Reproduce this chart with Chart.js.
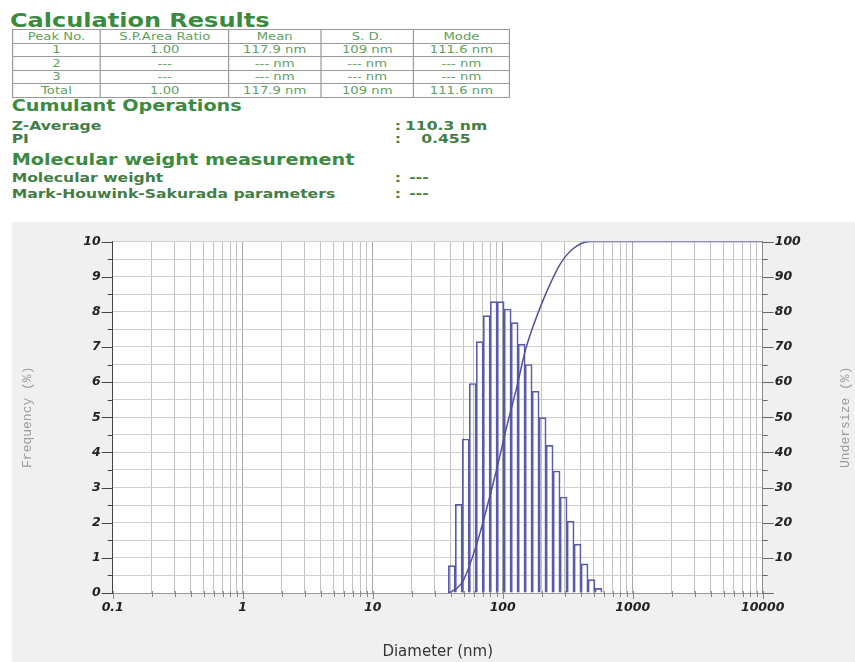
<!DOCTYPE html>
<html>
<head>
<meta charset="utf-8">
<script src="https://cdn.jsdelivr.net/npm/chart.js@4.4.0/dist/chart.umd.min.js"></script>
<style>
html,body{margin:0;padding:0;background:#fff;width:855px;height:662px;overflow:hidden;}
#top{position:absolute;left:0;top:0;width:712px;height:215px;transform:scaleX(1.2);transform-origin:0 0;font-family:"DejaVu Sans",sans-serif;}
.h{position:absolute;font-weight:bold;color:#3b8a40;line-height:1;white-space:nowrap;}
.lb{position:absolute;font-weight:bold;color:#437d45;line-height:1;white-space:nowrap;font-size:13px;}
#tbl{position:absolute;left:9.75px;top:29.3px;border-collapse:collapse;table-layout:fixed;font-size:11px;color:#5f9f5f;}
#tbl td{border:1px solid #9a9a9a;text-align:center;padding:0;height:12.5px;line-height:12px;white-space:nowrap;overflow:hidden;}
#chartwrap{position:absolute;left:0;top:222px;width:855px;height:440px;}
</style>
</head>
<body>
<div id="top">
  <div class="h" style="left:8.3px;top:9.8px;font-size:20px;">Calculation Results</div>
  <table id="tbl">
    <colgroup><col style="width:73.6px"><col style="width:106.9px"><col style="width:76.4px"><col style="width:77.8px"><col style="width:79.2px"></colgroup>
    <tr><td>Peak No.</td><td>S.P.Area Ratio</td><td>Mean</td><td>S. D.</td><td>Mode</td></tr>
    <tr><td>1</td><td>1.00</td><td>117.9 nm</td><td>109 nm</td><td>111.6 nm</td></tr>
    <tr><td>2</td><td>---</td><td>--- nm</td><td>--- nm</td><td>--- nm</td></tr>
    <tr><td>3</td><td>---</td><td>--- nm</td><td>--- nm</td><td>--- nm</td></tr>
    <tr><td>Total</td><td>1.00</td><td>117.9 nm</td><td>109 nm</td><td>111.6 nm</td></tr>
  </table>
  <div class="h" style="left:9.7px;top:98px;font-size:16px;">Cumulant Operations</div>
  <div class="lb" style="left:9.7px;top:119px;">Z-Average</div>
  <div class="lb" style="left:329px;top:119px;">:</div>
  <div class="lb" style="left:337.5px;top:119px;">110.3 nm</div>
  <div class="lb" style="left:9.7px;top:132.3px;">PI</div>
  <div class="lb" style="left:329px;top:132.3px;">:</div>
  <div class="lb" style="left:351px;top:132.3px;">0.455</div>
  <div class="h" style="left:9.7px;top:151.5px;font-size:16px;">Molecular weight measurement</div>
  <div class="lb" style="left:9.7px;top:170.7px;">Molecular weight</div>
  <div class="lb" style="left:329px;top:170.7px;">:</div>
  <div class="lb" style="left:341px;top:170.7px;">---</div>
  <div class="lb" style="left:9.7px;top:187.3px;">Mark-Houwink-Sakurada parameters</div>
  <div class="lb" style="left:329px;top:187.3px;">:</div>
  <div class="lb" style="left:341px;top:187.3px;">---</div>
</div>
<div id="chartwrap"><canvas id="c" width="855" height="440"></canvas></div>
<script>
// ---- data ----
const binCenters = [40.6, 45.9, 52.0, 58.8, 66.6, 75.4, 85.3, 96.5, 109.2, 123.6, 139.9, 158.4, 179.2, 202.8, 229.6, 259.8, 294.0, 332.8, 376.6, 426.2, 482.4, 545.9];
const frequency  = [0.78, 2.52, 4.38, 5.96, 7.15, 7.89, 8.29, 8.29, 8.08, 7.69, 7.08, 6.50, 5.74, 4.99, 4.20, 3.47, 2.73, 2.04, 1.39, 0.83, 0.38, 0.13];
const undersizeDiameter = [38.0, 44.3, 49.8, 63.1, 75.3, 89.9, 107.3, 128.2, 148.6, 171.9, 205, 231, 276, 349, 470, 10000];
const undersize         = [0.0, 1.3, 3.6, 13.9, 24.1, 35.2, 47.3, 58.5, 68.7, 76.0, 83.4, 87.8, 93.5, 98.0, 100, 100];
const xTickLabels = ['0.1', '1', '10', '100', '1000', '10000'];
const yLeftLabels = ['0','1','2','3','4','5','6','7','8','9','10'];
const yRightLabels = ['10','20','30','40','50','60','70','80','90','100'];

// log grid positions (1..9 x each decade)
const xGridValues = [];
for (let e = -1; e <= 3; e++) {
  for (let m = 1; m <= 9; m++) xGridValues.push(Number((m * Math.pow(10, e)).toPrecision(6)));
}
xGridValues.push(10000);

const isDecade = v => Math.abs(Math.log10(v) - Math.round(Math.log10(v))) < 1e-9;
const TICK_FONT = {family: '"DejaVu Sans"', size: 12.5, weight: 'bold', style: 'italic'};

const decorPlugin = {
  id: 'decor',
  beforeDraw(chart) {
    const {ctx, chartArea: a, width, height} = chart;
    ctx.save();
    ctx.fillStyle = '#f0f0f0';
    ctx.fillRect(12, 0, width - 12, height);
    ctx.fillStyle = '#ffffff';
    ctx.fillRect(a.left, a.top, a.right - a.left, a.bottom - a.top);
    ctx.restore();
  },
  afterDraw(chart) {
    const {ctx, chartArea: a, scales} = chart;
    ctx.save();
    ctx.lineWidth = 1;
    ctx.strokeStyle = '#444';
    for (let v = 0; v <= 10.001; v += 0.5) {
      const y = Math.round(scales.y.getPixelForValue(v)) + 0.5;
      const len = Number.isInteger(v) ? 11 : 5;
      ctx.beginPath(); ctx.moveTo(a.left - len, y); ctx.lineTo(a.left, y); ctx.stroke();
    }
    ctx.strokeStyle = '#666';
    for (let v = 0; v <= 100.001; v += 5) {
      const y = Math.round(scales.y2.getPixelForValue(v)) + 0.5;
      const len = (v % 10 === 0) ? 11 : 5;
      ctx.beginPath(); ctx.moveTo(a.right, y); ctx.lineTo(a.right + len, y); ctx.stroke();
    }
    ctx.strokeStyle = '#888';
    xGridValues.forEach(v => {
      const x = Math.round(scales.x.getPixelForValue(v)) + 0.5;
      const len = isDecade(v) ? 6 : 4;
      ctx.beginPath(); ctx.moveTo(x, a.bottom - 2); ctx.lineTo(x, a.bottom + len); ctx.stroke();
    });
    ctx.fillStyle = '#9a9a9a';
    ctx.font = '13px "Liberation Mono"';
    ctx.textAlign = 'center';
    ctx.textBaseline = 'middle';
    const cy = (a.top + a.bottom) / 2;
    [[28, 'Frequency (%)'], [846, 'Undersize (%)']].forEach(([x, t]) => {
      ctx.save(); ctx.translate(x, cy); ctx.rotate(-Math.PI / 2); ctx.fillText(t, 0, 0); ctx.restore();
    });
    ctx.restore();
  }
};

new Chart(document.getElementById('c'), {
  type: 'bar',
  data: {
    datasets: [
      {
        type: 'line',
        label: 'Undersize',
        data: undersizeDiameter.map((d, i) => ({x: d, y: undersize[i]})),
        xAxisID: 'x', yAxisID: 'y2',
        borderColor: '#50509e', borderWidth: 1.5,
        pointRadius: 0, fill: false,
        cubicInterpolationMode: 'monotone',
        order: 0
      },
      {
        type: 'bar',
        label: 'Frequency',
        data: binCenters.map((d, i) => ({x: d, y: frequency[i]})),
        xAxisID: 'x', yAxisID: 'y',
        borderColor: '#5a5aaa', borderWidth: 1,
        backgroundColor: 'rgba(0,0,0,0)',
        barThickness: 'flex', barPercentage: 1, categoryPercentage: 1,
        borderSkipped: 'start',
        order: 1
      }
    ]
  },
  options: {
    responsive: false, animation: false, devicePixelRatio: 1,
    layout: {padding: {top: 12, left: 0, right: 0, bottom: 0}},
    plugins: {legend: {display: false}, tooltip: {enabled: false}},
    scales: {
      x: {
        type: 'logarithmic', position: 'bottom', min: 0.1, max: 10000,
        offset: false,
        grid: {offset: false, drawTicks: false, lineWidth: 1,
               color: ctx => (ctx.tick && isDecade(ctx.tick.value)) ? '#a8a8a8' : '#c2c2c2'},
        border: {color: '#9a9a9a'},
        afterBuildTicks: s => { s.ticks = xGridValues.map(v => ({value: v})); },
        afterFit: s => { s.height = 69; },
        ticks: {
          autoSkip: false, maxRotation: 0, minRotation: 0, padding: 7, color: '#222', font: TICK_FONT,
          callback: v => isDecade(v) ? xTickLabels[Math.round(Math.log10(v)) + 1] : ''
        },
        title: {display: true, text: 'Diameter (nm)', color: '#333',
                font: {family: '"DejaVu Sans"', size: 15}, padding: {top: 0, bottom: 1}}
      },
      y: {
        type: 'linear', position: 'left', min: 0, max: 10,
        grid: {drawTicks: false, color: '#cfcfcf', lineWidth: 1},
        border: {color: '#444'},
        afterFit: s => { s.width = 112.7; },
        ticks: {
          stepSize: 0.5, autoSkip: false, padding: 12, color: '#222', font: TICK_FONT,
          callback: v => Number.isInteger(v) ? yLeftLabels[v] : ''
        }
      },
      y2: {
        type: 'linear', position: 'right', min: 0, max: 100,
        grid: {drawOnChartArea: false, drawTicks: false},
        border: {color: '#888'},
        afterFit: s => { s.width = 92.3; },
        ticks: {
          stepSize: 5, autoSkip: false, padding: 12, color: '#222', font: TICK_FONT,
          callback: v => (v % 10 === 0 && v > 0) ? yRightLabels[v / 10 - 1] : ''
        }
      }
    }
  },
  plugins: [decorPlugin]
});
</script>
</body>
</html>
